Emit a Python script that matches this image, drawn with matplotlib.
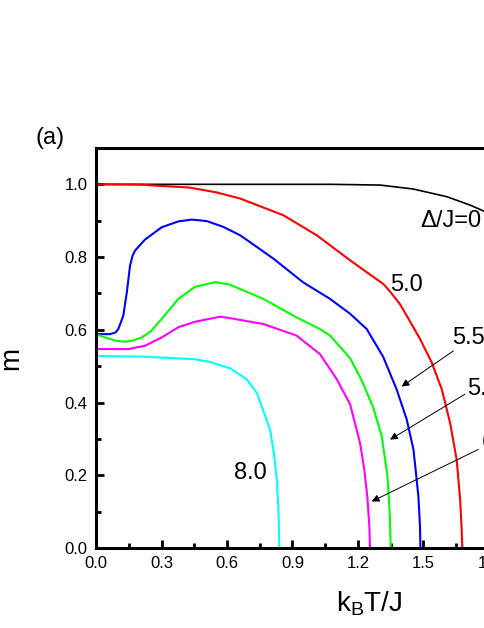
import matplotlib
matplotlib.use("Agg")
import matplotlib.pyplot as plt
from matplotlib.ticker import MultipleLocator, FormatStrFormatter

plt.rcParams["font.family"] = ["Liberation Sans", "DejaVu Sans"]
plt.rcParams["mathtext.default"] = "regular"

# magnetization curves, one per Delta/J
t_d0 = [0.0, 0.5, 1.072, 1.301, 1.454, 1.607, 1.713, 1.782, 1.80]
m_d0 = [1.0, 1.0, 1.0, 0.998, 0.987, 0.966, 0.943, 0.925, 0.918]

t_d50 = [0.0, 0.2, 0.43, 0.55, 0.66, 0.858, 1.011, 1.164, 1.255, 1.316, 1.347, 1.393,
         1.423, 1.484, 1.538, 1.584, 1.622, 1.652, 1.668, 1.675, 1.678]
m_d50 = [1.0, 0.999, 0.991, 0.978, 0.961, 0.915, 0.86, 0.791, 0.752, 0.726, 0.705, 0.670,
         0.639, 0.575, 0.510, 0.436, 0.344, 0.243, 0.133, 0.05, 0.0]

t_d55 = [0.0, 0.064, 0.09, 0.102, 0.125, 0.141, 0.156, 0.167, 0.179, 0.224, 0.301,
         0.377, 0.438, 0.507, 0.583, 0.66, 0.736, 0.812, 0.889, 0.95, 1.072, 1.164,
         1.240, 1.316, 1.377, 1.423, 1.454, 1.465, 1.477, 1.484, 1.486]
m_d55 = [0.588, 0.588, 0.593, 0.602, 0.639, 0.703, 0.777, 0.803, 0.818, 0.848, 0.882,
         0.898, 0.903, 0.899, 0.883, 0.860, 0.828, 0.796, 0.759, 0.73, 0.685, 0.644,
         0.602, 0.525, 0.436, 0.354, 0.271, 0.21, 0.14, 0.06, 0.0]

t_d58 = [0.0, 0.041, 0.09, 0.133, 0.17, 0.209, 0.25, 0.301, 0.377, 0.453, 0.545,
         0.614, 0.766, 0.919, 1.026, 1.072, 1.133, 1.164, 1.209, 1.225, 1.27, 1.309,
         1.335, 1.345, 1.35]
m_d58 = [0.588, 0.579, 0.570, 0.567, 0.571, 0.579, 0.595, 0.630, 0.685, 0.718, 0.731,
         0.724, 0.685, 0.634, 0.602, 0.584, 0.543, 0.522, 0.470, 0.450, 0.386, 0.307,
         0.197, 0.10, 0.0]

t_d60 = [0.0, 0.148, 0.224, 0.301, 0.377, 0.453, 0.568, 0.614, 0.766, 0.919, 1.026,
         1.103, 1.164, 1.209, 1.228, 1.243, 1.252, 1.255]
m_d60 = [0.547, 0.547, 0.556, 0.579, 0.607, 0.622, 0.636, 0.632, 0.616, 0.584, 0.533,
         0.464, 0.395, 0.29, 0.22, 0.14, 0.06, 0.0]

t_d80 = [0.0, 0.224, 0.453, 0.52, 0.614, 0.69, 0.736, 0.764, 0.797, 0.815, 0.828, 0.836, 0.84]
m_d80 = [0.528, 0.526, 0.519, 0.512, 0.494, 0.464, 0.427, 0.381, 0.326, 0.26, 0.188, 0.1, 0.0]

curves = [
    (t_d0, m_d0, "black", 1.2),
    (t_d50, m_d50, "#ff0000", 1.5),
    (t_d55, m_d55, "#0000ff", 1.5),
    (t_d58, m_d58, "#00ff00", 1.5),
    (t_d60, m_d60, "#ff00ff", 1.5),
    (t_d80, m_d80, "#00ffff", 1.5),
]

# curve labels: (text, x, y)
labels = [
    ("\u0394/J=0", 1.484, 0.90),
    ("5.0", 1.347, 0.724),
    ("5.5", 1.629, 0.577),
    ("5.8", 1.698, 0.436),
    ("6.0", 1.767, 0.29),
    ("8.0", 0.632, 0.206),
]
# arrows: (tail, head)
arrows = [
    ((1.637, 0.542), (1.400, 0.444)),
    ((1.690, 0.423), (1.347, 0.298)),
    ((1.751, 0.271), (1.263, 0.128)),
]

fig = plt.figure(figsize=(4.85, 6.28), dpi=100)
ax = fig.add_axes([0.198, 0.1274, 0.9452, 0.637])

for t, m, c, lw in curves:
    ax.plot(t, m, color=c, lw=lw, solid_joinstyle="round")

for txt, x, y in labels:
    ax.text(x, y, txt, fontsize=17, ha="left", va="center")

for tail, head in arrows:
    ax.annotate("", xy=head, xytext=tail,
                arrowprops=dict(arrowstyle="-|>", lw=0.7, color="k",
                                mutation_scale=11, shrinkA=0, shrinkB=0))

ax.set_xlim(0, 2.1)
ax.set_ylim(0, 1.1)
ax.xaxis.set_major_locator(MultipleLocator(0.3))
ax.xaxis.set_minor_locator(MultipleLocator(0.15))
ax.yaxis.set_major_locator(MultipleLocator(0.2))
ax.yaxis.set_minor_locator(MultipleLocator(0.1))
ax.xaxis.set_major_formatter(FormatStrFormatter("%.1f"))
ax.yaxis.set_major_formatter(FormatStrFormatter("%.1f"))
ax.tick_params(which="both", direction="in", width=2, labelsize=12, pad=6)
ax.tick_params(which="major", length=6)
ax.tick_params(which="minor", length=3.5)
for s in ax.spines.values():
    s.set_linewidth(2.2)

ax.set_xlabel(r"k$_B$T/J", fontsize=20)
ax.xaxis.set_label_coords(0.596, -0.105)
ax.set_ylabel("m", fontsize=20)
ax.yaxis.set_label_coords(-0.157, 0.474)

fig.text(0.103, 0.780, "(a)", fontsize=17, ha="center", va="center")

fig.savefig("out.png", dpi=100)
